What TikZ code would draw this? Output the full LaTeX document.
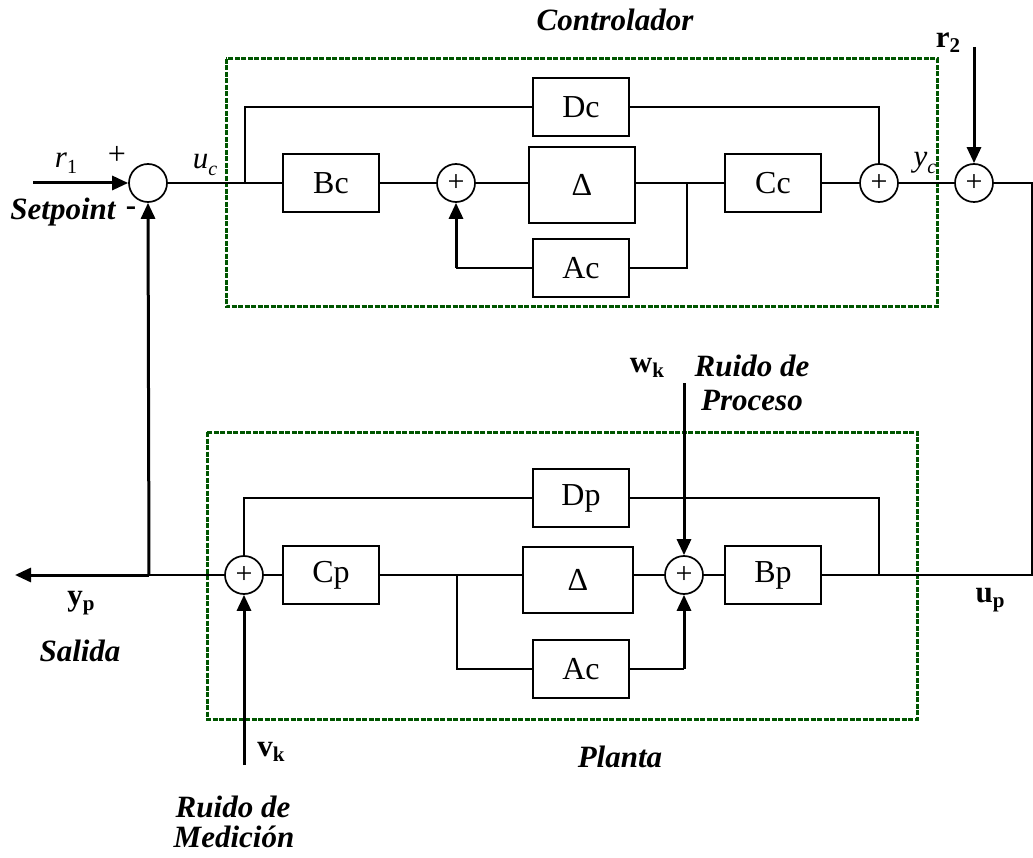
\documentclass[tikz,border=0pt]{standalone}
\usepackage{fontspec}
\setmainfont{Liberation Serif}
\usetikzlibrary{arrows.meta}
\definecolor{dgreen}{RGB}{0,85,0}
\newcommand\bsubl[2]{\textbf{#1}\raisebox{-0.35ex}{\fontsize{21}{22}\selectfont\textbf{#2}}}
\newcommand\isubl[2]{\textit{#1}\raisebox{-0.45ex}{\fontsize{20}{22}\selectfont #2}}
\tikzset{
  blk/.style={draw, line width=1.7pt, minimum width=96pt, minimum height=58pt, inner sep=0pt, font=\fontsize{32}{36}\selectfont},
  sumc/.style={draw, circle, line width=1.7pt, minimum size=38pt, inner sep=0pt, font=\fontsize{30}{30}\selectfont},
  arr/.style={-{Triangle[length=16pt,width=14pt]}, line width=3pt},
  frame/.style={draw=dgreen, line width=3pt, dash pattern=on 5pt off 1.5pt},
  lab/.style={font=\fontsize{31}{34}\selectfont\bfseries\itshape, inner sep=0pt},
  txt/.style={font=\fontsize{31}{34}\selectfont, inner sep=0pt}
}
\begin{document}
\begin{tikzpicture}[x=1pt,y=-1pt, line width=1.7pt]
\useasboundingbox (0,0) rectangle (1033,858);
% frames
\draw[frame] (226,59) rectangle (937,307);
\draw[frame] (207,432) rectangle (917,719);
% controller
\node[sumc] (s0) at (148,183) {};
\node[blk] (Bc) at (331,183) {Bc};
\node[sumc] (s1) at (456,183) {+};
\node[blk, minimum width=106pt, minimum height=76pt] (Dl1) at (582,185) {Δ};
\node[blk] (Dc) at (581,107) {Dc};
\node[blk] (Ac1) at (581,268) {Ac};
\node[blk] (Cc) at (773,183) {Cc};
\node[sumc] (s2) at (879,183) {+};
\node[sumc] (s3) at (974,183) {+};
\coordinate (j0) at (245,183);
\coordinate (j0t) at (245,107);
\coordinate (j1) at (687,183);
\coordinate (j1b) at (687,268);
\coordinate (fb1) at (456,268);
\coordinate (s2t) at (879,107);
\coordinate (r1s) at (33,183);
\coordinate (r2s) at (974,47);
\coordinate (rc) at (1032,183);
\coordinate (rcb) at (1032,575);
% plant
\node[sumc] (p1) at (244,575) {+};
\node[blk] (Cp) at (331,575) {Cp};
\node[blk, minimum width=110pt, minimum height=66pt] (Dl2) at (578,580) {Δ};
\node[blk] (Dp) at (581,498) {Dp};
\node[blk] (Ac2) at (581,669) {Ac};
\node[sumc] (p2) at (684,575) {+};
\node[blk] (Bp) at (773,575) {Bp};
\coordinate (j2) at (457,575);
\coordinate (j2b) at (457,669);
\coordinate (fb2) at (684,669);
\coordinate (j3) at (879,575);
\coordinate (j3t) at (879,498);
\coordinate (dpl) at (244,498);
\coordinate (j4) at (149,575);
\coordinate (yend) at (15,575);
\coordinate (vks) at (244,765);
\coordinate (wks) at (684,383);
% controller connectors
\draw[arr] (r1s) -- (s0.west);
\draw (s0.east) -- (Bc.west);
\draw (j0) -- (j0t) -- (Dc.west);
\draw (Bc.east) -- (s1.west);
\draw (s1.east) -- (s1.east -| Dl1.west);
\draw (Dl1.east |- Cc.west) -- (Cc.west);
\draw (j1) -- (j1b) -- (Ac1.east);
\draw (Ac1.west) -- (fb1);
\draw[arr] (fb1) -- (s1.south);
\draw (Cc.east) -- (s2.west);
\draw (Dc.east) -- (s2t) -- (s2.north);
\draw (s2.east) -- (s3.west);
\draw[arr] (r2s) -- (s3.north);
\draw (s3.east) -- (rc) -- (rcb) -- (Bp.east);
% plant connectors
\draw (Bp.west) -- (p2.east);
\draw[arr] (wks) -- (p2.north);
\draw (Cp.east) -- (Cp.east -| Dl2.west);
\draw (Dl2.east |- p2.west) -- (p2.west);
\draw (j2) -- (j2b) -- (Ac2.west);
\draw (Ac2.east) -- (fb2);
\draw[arr] (fb2) -- (p2.south);
\draw (j3) -- (j3t) -- (Dp.east);
\draw (Dp.west) -- (dpl) -- (p1.north);
\draw (p1.east) -- (Cp.west);
\draw[arr] (vks) -- (p1.south);
\draw (p1.west) -- (j4);
\draw[arr] (j4) -- (yend);
\draw[arr] (j4) -- (s0.south);
% labels
\node[lab] (tctrl) at (615,20) {Controlador};
\node[lab] (tsp) at (63,212) {Setpoint};
\node[txt, font=\fontsize{32}{34}\selectfont] (tplus) at (117,155) {+};
\node[txt, font=\fontsize{31}{34}\selectfont\bfseries] (tminus) at (131,211) {-};
\node[txt] (tr1) at (66,163) {\textit{r}\raisebox{-0.45ex}{\fontsize{20}{22}\selectfont 1}};
\node[txt] (tuc) at (205,165) {\isubl{u}{\textit{c}}};
\node[txt] (tyc) at (925,163) {\isubl{y}{\textit{c}}};
\node[txt] (tr2) at (948,43) {\bsubl{r}{2}};
\node[txt] (twk) at (647,368) {\bsubl{w}{k}};
\node[lab] (tr1a) at (752,366) {Ruido de};
\node[lab] (tr1b) at (752,401) {Proceso};
\node[txt] (tup) at (990,600) {\bsubl{u}{p}};
\node[txt] (typ) at (81,603) {\bsubl{y}{p}};
\node[lab] (tsal) at (80,651) {Salida};
\node[lab] (tpl) at (620,757) {Planta};
\node[txt] (tvk) at (271,752) {\bsubl{v}{k}};
\node[lab] (tr2a) at (233,807) {Ruido de};
\node[lab] (tr2b) at (234,837) {Medición};
\end{tikzpicture}
\end{document}
